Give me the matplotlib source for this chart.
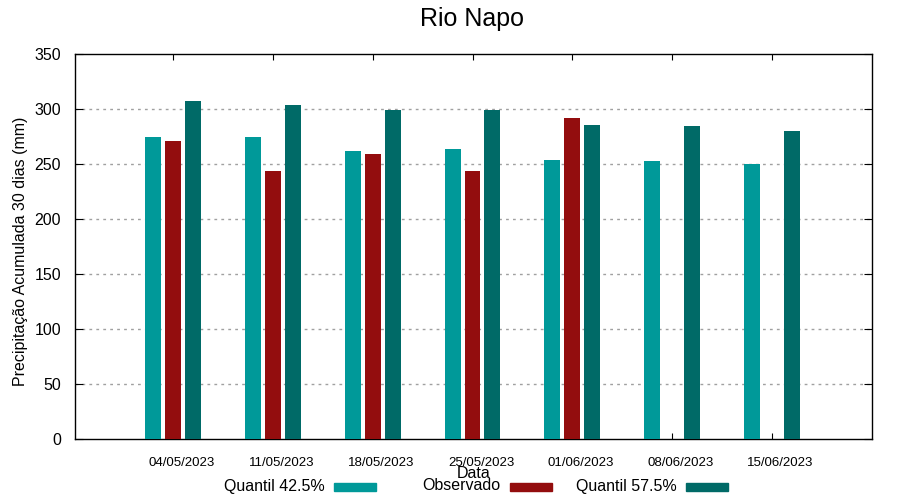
import matplotlib
matplotlib.use("Agg")
import matplotlib.pyplot as plt
from matplotlib.patches import Rectangle
import numpy as np

plt.rcParams['font.family'] = ['Liberation Sans', 'DejaVu Sans']

dates = ["04/05/2023", "11/05/2023", "18/05/2023", "25/05/2023",
         "01/06/2023", "08/06/2023", "15/06/2023"]
q425 = [274.5, 274.5, 262, 263.5, 253.5, 252.5, 250]
observado = [271, 243.5, 259, 243.5, 292, None, None]
q575 = [307.5, 303.5, 299, 299, 285.5, 284.5, 280]
series_names = ["Quantil 42.5%", "Observado", "Quantil 57.5%"]
colors = ["#009999", "#930d0e", "#006a67"]

fig = plt.figure(figsize=(9, 5), dpi=100)
ax = fig.add_axes([75/900, 61/500, 797/900, 385/500])

x = np.arange(1, len(dates) + 1)
w = 0.16
off = 0.2
ax.bar(x - off, q425, width=w, color=colors[0], zorder=3)
obs_x = [xi for xi, v in zip(x, observado) if v is not None]
obs_v = [v for v in observado if v is not None]
ax.bar(np.array(obs_x), obs_v, width=w, color=colors[1], zorder=3)
ax.bar(x + off, q575, width=w, color=colors[2], zorder=3)

ax.set_xlim(0.02, 8.0)
ax.set_ylim(0, 350)
ax.set_yticks(range(0, 351, 50))
# major ticks at group centres (marks only), minor ticks carry labels slightly offset
ax.set_xticks(x)
ax.set_xticklabels([""] * len(dates))
ax.set_xticks(x + 0.085, minor=True)
ax.set_xticklabels(dates, minor=True, fontsize=9.5)
ax.tick_params(axis='x', which='minor', length=0, pad=13)
ax.tick_params(axis='x', which='major', direction='in', length=4, top=True)
ax.tick_params(axis='y', labelsize=11.5, direction='in', length=6, pad=10, right=True)

for yv in range(50, 301, 50):
    ax.axhline(yv, color='#a0a0a0', linestyle=(0, (2, 3)), linewidth=1, zorder=1)

for s in ax.spines.values():
    s.set_linewidth(1)
    s.set_color('black')

ax.set_ylabel("Precipitação Acumulada 30 dias (mm)", fontsize=11.5)
ax.yaxis.set_label_coords(-0.059, 0.487)
ax.set_xlabel("Data", fontsize=11.5, labelpad=-2)
fig.text(472/900, 1 - 19/500, "Rio Napo", fontsize=18, ha='center', va='center')

# legend, gnuplot style
text_right = [325, 500, 677]
box_left = [334, 510, 686]
for name, c, tr, bl in zip(series_names, colors, text_right, box_left):
    fig.text(tr/900, 1 - 486/500, name, fontsize=11.5, ha='right', va='center')
    fig.patches.append(Rectangle((bl/900, 1 - 491/500), 42/900, 8/500,
                                 transform=fig.transFigure, color=c, figure=fig))

fig.savefig("out.png", dpi=100)
